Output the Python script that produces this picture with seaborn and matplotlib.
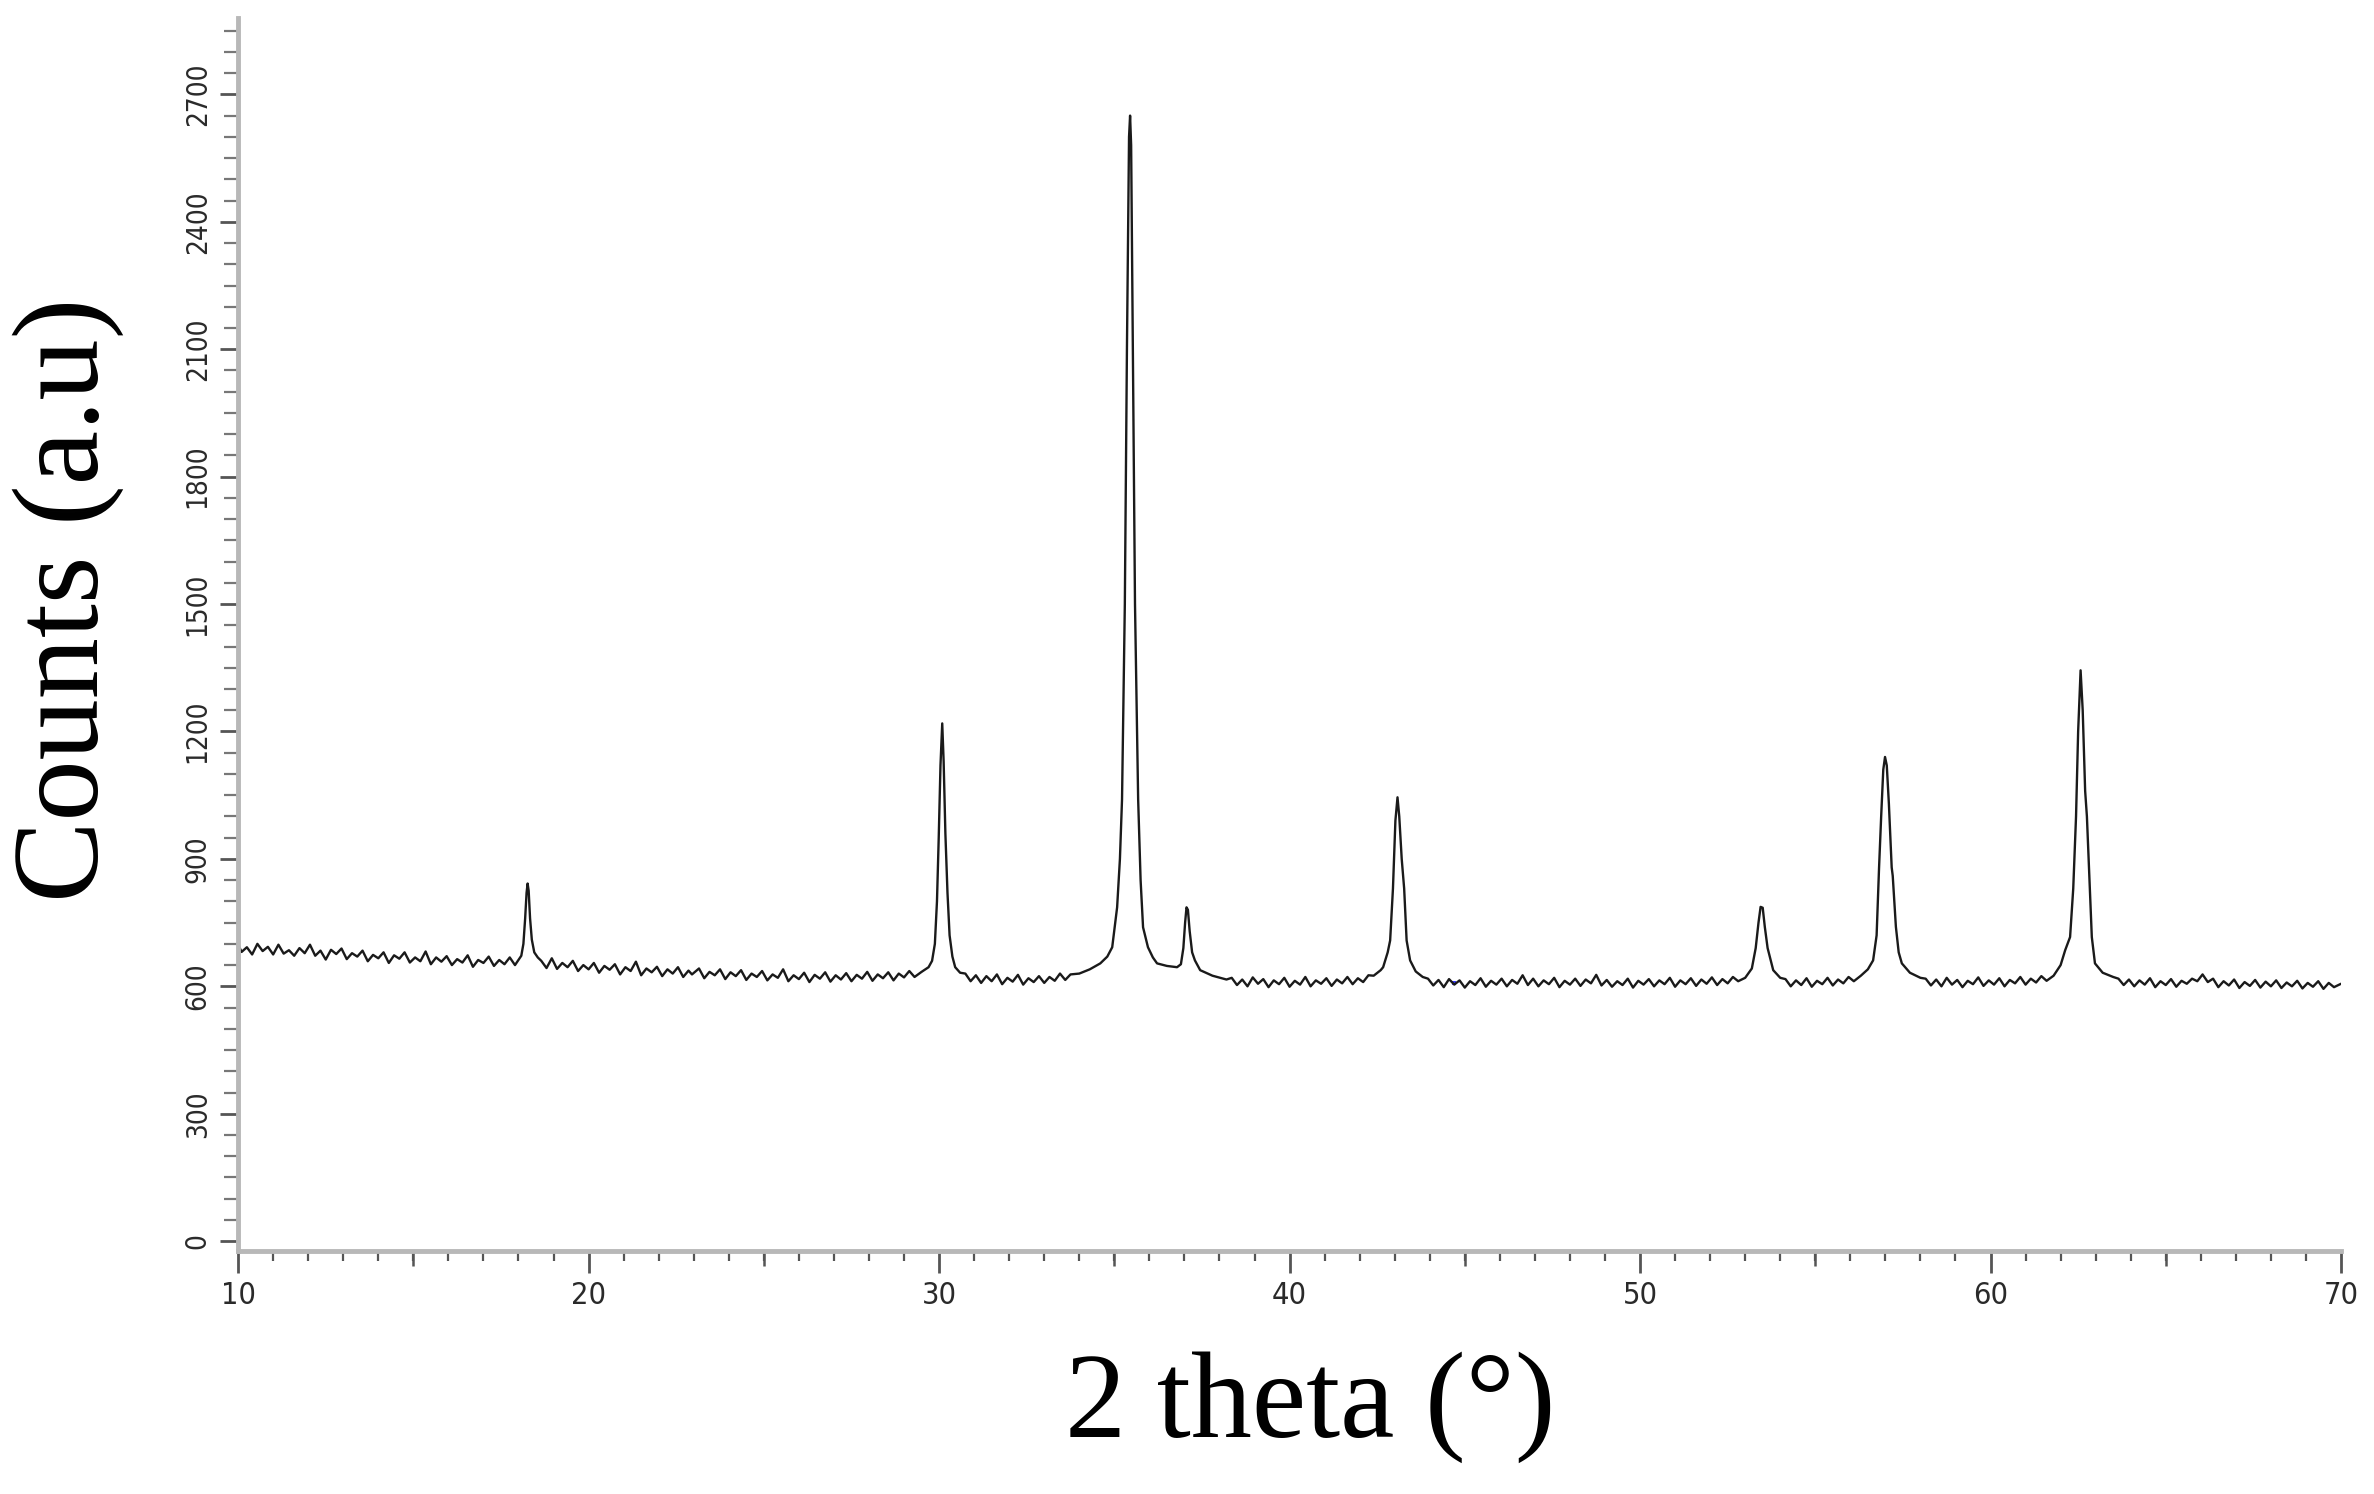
import numpy as np
import pandas as pd
import seaborn as sns
import matplotlib.pyplot as plt
from matplotlib.ticker import MultipleLocator, FixedLocator

# scan, (2 theta, counts) per stretch
bg_10_18 = [(10.0, 698), (10.1, 681), (10.25, 692), (10.4, 675), (10.55, 700), (10.7, 683), (10.85, 693),
            (11.0, 675), (11.15, 698), (11.3, 677), (11.45, 685), (11.6, 672), (11.75, 690), (11.9, 678),
            (12.05, 698), (12.2, 672), (12.35, 684), (12.5, 663), (12.65, 686), (12.8, 676), (12.95, 689),
            (13.1, 664), (13.25, 678), (13.4, 670), (13.55, 684), (13.7, 659), (13.85, 674), (14.0, 666),
            (14.15, 680), (14.3, 655), (14.45, 673), (14.6, 665), (14.75, 680), (14.9, 656), (15.05, 668),
            (15.2, 659), (15.35, 682), (15.5, 652), (15.65, 668), (15.8, 658), (15.95, 671), (16.1, 650),
            (16.25, 664), (16.4, 656), (16.55, 673), (16.7, 646), (16.85, 662), (17.0, 655), (17.15, 670),
            (17.3, 648), (17.45, 662), (17.6, 652), (17.75, 668), (17.9, 650)]
peak_18 = [(18.0, 662), (18.08, 672), (18.14, 700), (18.19, 760), (18.23, 820), (18.26, 842), (18.29, 825),
           (18.33, 760), (18.38, 710), (18.45, 680), (18.55, 668)]
bg_18_29 = [(18.65, 660), (18.8, 643), (18.95, 666), (19.1, 641), (19.25, 655), (19.4, 645), (19.55, 660),
            (19.7, 636), (19.85, 650), (20.0, 640), (20.15, 655), (20.3, 632), (20.45, 648), (20.6, 639),
            (20.75, 652), (20.9, 628), (21.05, 645), (21.2, 636), (21.35, 658), (21.5, 626), (21.65, 642),
            (21.8, 633), (21.95, 646), (22.1, 624), (22.25, 640), (22.4, 630), (22.55, 645), (22.7, 622),
            (22.85, 637), (22.95, 628), (23.15, 642), (23.3, 619), (23.45, 634), (23.6, 626), (23.75, 640),
            (23.9, 617), (24.05, 633), (24.2, 624), (24.35, 638), (24.5, 615), (24.65, 630), (24.8, 622),
            (24.95, 636), (25.1, 614), (25.25, 628), (25.4, 620), (25.55, 640), (25.7, 612), (25.85, 626),
            (26.0, 617), (26.15, 632), (26.3, 610), (26.45, 627), (26.6, 618), (26.75, 633), (26.9, 611),
            (27.05, 626), (27.2, 616), (27.35, 631), (27.5, 612), (27.65, 627), (27.8, 618), (27.95, 634),
            (28.1, 613), (28.25, 628), (28.4, 619), (28.55, 633), (28.7, 614), (28.85, 630), (29.0, 621),
            (29.15, 636), (29.3, 622)]
peak_30 = [(29.5, 634), (29.7, 645), (29.8, 660), (29.88, 700), (29.94, 800), (29.99, 950), (30.04, 1120),
           (30.09, 1219), (30.13, 1130), (30.18, 960), (30.24, 820), (30.3, 720), (30.38, 670), (30.46, 645),
           (30.6, 632)]
bg_30_34 = [(30.75, 630), (30.9, 612), (31.05, 626), (31.2, 608), (31.35, 624), (31.5, 612), (31.65, 628),
            (31.8, 605), (31.95, 620), (32.1, 611), (32.25, 627), (32.4, 604), (32.55, 619), (32.7, 610),
            (32.85, 624), (33.0, 608), (33.15, 622), (33.3, 613), (33.45, 630), (33.6, 615), (33.75, 628)]
peak_35 = [(34.0, 630), (34.3, 640), (34.6, 654), (34.8, 670), (34.94, 692), (35.08, 786), (35.16, 900),
           (35.22, 1040), (35.3, 1500), (35.36, 2100), (35.42, 2600), (35.45, 2650), (35.48, 2580),
           (35.53, 2100), (35.59, 1500), (35.68, 1040), (35.75, 850), (35.82, 739), (35.96, 692),
           (36.1, 668), (36.22, 654), (36.5, 648), (36.79, 645)]
peak_37 = [(36.9, 652), (36.97, 690), (37.02, 750), (37.06, 786), (37.1, 780), (37.15, 730), (37.22, 680),
           (37.3, 661), (37.45, 638), (37.8, 625), (38.2, 616)]
bg_38_42 = [(38.35, 620), (38.5, 603), (38.65, 616), (38.8, 600), (38.95, 621), (39.1, 606), (39.25, 617),
            (39.4, 598), (39.55, 614), (39.7, 605), (39.85, 620), (40.0, 599), (40.15, 613), (40.3, 604),
            (40.45, 622), (40.6, 600), (40.75, 614), (40.9, 606), (41.05, 619), (41.2, 601), (41.35, 616),
            (41.5, 607), (41.65, 622), (41.8, 605), (41.95, 619), (42.1, 610), (42.25, 626)]
peak_43 = [(42.4, 625), (42.6, 638), (42.67, 645), (42.8, 680), (42.87, 708), (42.95, 830), (43.02, 990),
           (43.08, 1045), (43.13, 1000), (43.2, 900), (43.27, 830), (43.34, 708), (43.44, 661), (43.6, 635),
           (43.8, 622)]
bg_44_53 = [(43.95, 618), (44.1, 602), (44.25, 615), (44.4, 598), (44.55, 617), (44.7, 604), (44.85, 614),
            (45.0, 597), (45.15, 612), (45.3, 603), (45.45, 619), (45.6, 599), (45.75, 613), (45.9, 604),
            (46.05, 618), (46.2, 600), (46.35, 615), (46.5, 606), (46.65, 626), (46.8, 603), (46.95, 618),
            (47.1, 600), (47.25, 614), (47.4, 605), (47.55, 620), (47.7, 598), (47.85, 613), (48.0, 604),
            (48.15, 618), (48.3, 601), (48.45, 616), (48.6, 607), (48.75, 627), (48.9, 602), (49.05, 615),
            (49.2, 599), (49.35, 612), (49.5, 603), (49.65, 618), (49.8, 597), (49.95, 613), (50.1, 604),
            (50.25, 617), (50.4, 600), (50.55, 614), (50.7, 605), (50.85, 620), (51.0, 599), (51.15, 614),
            (51.3, 605), (51.45, 619), (51.6, 601), (51.75, 616), (51.9, 606), (52.05, 621), (52.2, 603),
            (52.35, 617), (52.5, 607), (52.65, 622), (52.8, 612)]
peak_53 = [(53.0, 620), (53.19, 642), (53.3, 690), (53.38, 750), (53.44, 787), (53.5, 785), (53.56, 740),
           (53.64, 690), (53.8, 638), (54.0, 620)]
bg_54_56 = [(54.15, 617), (54.3, 600), (54.45, 614), (54.6, 603), (54.75, 619), (54.9, 599), (55.05, 613),
            (55.2, 605), (55.35, 620), (55.5, 602), (55.65, 616), (55.8, 607), (55.95, 622), (56.1, 612)]
peak_57 = [(56.3, 625), (56.5, 640), (56.65, 661), (56.75, 720), (56.82, 880), (56.88, 1000), (56.94, 1110),
           (56.99, 1140), (57.04, 1120), (57.1, 1030), (57.18, 880), (57.21, 860), (57.3, 740), (57.38, 680),
           (57.47, 654), (57.7, 632), (58.0, 620)]
bg_58_61 = [(58.15, 618), (58.3, 602), (58.45, 616), (58.6, 600), (58.75, 620), (58.9, 604), (59.05, 615),
            (59.2, 598), (59.35, 613), (59.5, 605), (59.65, 621), (59.8, 601), (59.95, 614), (60.1, 604),
            (60.25, 619), (60.4, 600), (60.55, 615), (60.7, 607), (60.85, 622), (61.0, 604), (61.15, 618),
            (61.3, 609), (61.45, 624), (61.6, 613)]
peak_62 = [(61.8, 625), (62.0, 650), (62.13, 685), (62.27, 716), (62.36, 830), (62.44, 1000), (62.5, 1200),
           (62.57, 1344), (62.63, 1250), (62.7, 1060), (62.75, 1000), (62.82, 860), (62.89, 716),
           (62.98, 654), (63.2, 632), (63.5, 622)]
bg_63_70 = [(63.65, 618), (63.8, 603), (63.95, 616), (64.1, 600), (64.25, 614), (64.4, 604), (64.55, 619),
            (64.7, 598), (64.85, 612), (65.0, 603), (65.15, 617), (65.3, 599), (65.45, 613), (65.6, 606),
            (65.75, 618), (65.9, 612), (66.05, 628), (66.2, 610), (66.35, 618), (66.5, 598), (66.65, 612),
            (66.8, 602), (66.95, 616), (67.1, 596), (67.25, 610), (67.4, 601), (67.55, 615), (67.7, 597),
            (67.85, 611), (68.0, 600), (68.15, 614), (68.3, 596), (68.45, 609), (68.6, 600), (68.75, 613),
            (68.9, 595), (69.05, 608), (69.2, 599), (69.35, 612), (69.5, 594), (69.65, 608), (69.8, 598),
            (70.0, 606)]

# two stray blue marks in the original export
stray_x = [10.0, 44.7]
stray_y = [105, 608]

x_ticks = [10, 20, 30, 40, 50, 60, 70]
y_ticks = [0, 300, 600, 900, 1200, 1500, 1800, 2100, 2400, 2700]

segments = [bg_10_18, peak_18, bg_18_29, peak_30, bg_30_34, peak_35, peak_37, bg_38_42,
            peak_43, bg_44_53, peak_53, bg_54_56, peak_57, bg_58_61, peak_62, bg_63_70]
scan = pd.DataFrame([p for s in segments for p in s], columns=['two_theta', 'counts'])

sns.set_style('white')
tick_font = ['Liberation Sans Narrow', 'DejaVu Sans']
label_font = ['Liberation Serif', 'DejaVu Serif']

fig = plt.figure(figsize=(23.74, 14.94), dpi=100)
ax = fig.add_axes([0.1003, 0.1627, 0.8858, 0.8253])

sns.lineplot(data=scan, x='two_theta', y='counts', sort=False, estimator=None,
             color='#1a1a1a', linewidth=1.7, ax=ax)
sns.scatterplot(x=stray_x, y=stray_y, color='#3a3aff', s=12, marker='s', linewidth=0, ax=ax)

ax.set_xlim(10, 70)
ax.set_ylim(-23, 2880)

for side in ['top', 'right']:
    ax.spines[side].set_visible(False)
for side in ['left', 'bottom']:
    ax.spines[side].set_color('#b8b8b8')
    ax.spines[side].set_linewidth(3.5)

ax.xaxis.set_major_locator(FixedLocator(x_ticks))
ax.xaxis.set_minor_locator(MultipleLocator(1))
ax.yaxis.set_major_locator(FixedLocator(y_ticks))
ax.yaxis.set_minor_locator(MultipleLocator(50))

ax.tick_params(axis='x', which='major', direction='out', length=16, width=2, color='#555555',
               labelsize=22, labelcolor='#2a2a2a', pad=6, bottom=True)
ax.tick_params(axis='x', which='minor', direction='out', length=7, width=1.6, color='#555555', bottom=True)
ax.tick_params(axis='y', which='major', direction='out', length=13, width=2, color='#555555',
               labelsize=20, labelcolor='#2a2a2a', pad=6, left=True)
ax.tick_params(axis='y', which='minor', direction='out', length=10, width=1.6, color='#777777', left=True)
for lab in ax.get_xticklabels():
    lab.set_family(tick_font)
    lab.set_stretch('condensed')
for lab in ax.get_yticklabels():
    lab.set_family(tick_font)
    lab.set_stretch('condensed')
    lab.set_rotation(90)
    lab.set_va('center')

# medium ticks at the fives
mid = ax.secondary_xaxis('bottom')
mid.set_xticks([15, 25, 35, 45, 55, 65])
mid.tick_params(length=11, width=1.8, color='#555555', labelbottom=False)
mid.spines['bottom'].set_visible(False)

ax.set_xlabel('2 theta (°)', family=label_font, fontsize=88, color='black')
ax.set_ylabel('Counts (a.u)', family=label_font, fontsize=88, color='black')
ax.xaxis.set_label_coords(0.51, -0.127)
ax.xaxis.label.set_va('center')
ax.yaxis.set_label_coords(-0.081, 0.528)
ax.yaxis.label.set_va('center')

fig.savefig('out.png', dpi=100, facecolor='white')
